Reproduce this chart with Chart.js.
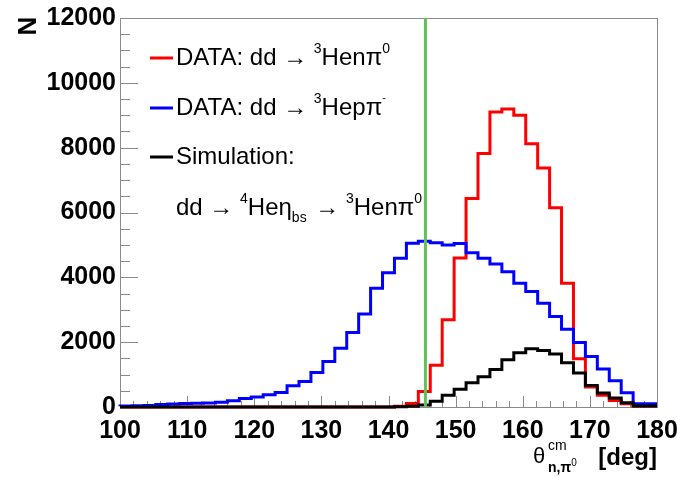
<!DOCTYPE html>
<html>
<head>
<meta charset="utf-8">
<script src="https://cdn.jsdelivr.net/npm/chart.js@4.4.1/dist/chart.umd.min.js"></script>
<style>
  html, body { margin: 0; padding: 0; background: #ffffff; }
  #wrap { width: 677px; height: 478px; }
</style>
</head>
<body>
<div id="wrap"><canvas id="canvasTheta"></canvas></div>
<script>
// binning del histograma: 45 bins entre 100 y 180 grados
var thetaMin = 100;
var thetaMax = 180;
var nBins = 45;

// corte en theta (linea verde)
var cutAngle = 145.5;

// DATA: dd -> 3He n pi0
var datosNPi0 = [
  0, 0, 0, 0, 0, 0, 0, 0, 0, 0,
  0, 0, 0, 0, 0, 0, 0, 0, 0, 0,
  0, 0, 0, 0, 20, 110, 480, 1290, 2690, 4600,
  6430, 7820, 9100, 9190, 9000, 8120, 7370, 6150, 3820, 1490,
  620, 360, 200, 100, 30
];

// DATA: dd -> 3He p pi-
var datosPPim = [
  25, 30, 40, 50, 80, 95, 105, 115, 125, 145,
  190, 260, 310, 375, 450, 655, 790, 1065, 1405, 1815,
  2300, 2870, 3660, 4140, 4585, 5050, 5115, 5065, 4995, 5045,
  4760, 4585, 4410, 4170, 3815, 3560, 3200, 2790, 2400, 1990,
  1560, 1170, 810, 440, 100
];

// Simulacion: dd -> 4He eta_bs -> 3He n pi0
var simulacion = [
  0, 0, 0, 0, 0, 0, 0, 0, 0, 0,
  0, 0, 0, 0, 0, 0, 0, 0, 0, 0,
  0, 0, 0, 0, 10, 20, 60, 180, 360, 550,
  750, 930, 1160, 1455, 1670, 1800, 1740, 1635, 1365, 1046,
  660, 431, 277, 130, 30
];

var yTicks = [0, 2000, 4000, 6000, 8000, 10000, 12000];
var xTicks = [100, 110, 120, 130, 140, 150, 160, 170, 180];

var FONT = '"Liberation Sans", Arial, Helvetica, sans-serif';

// convierte los contenidos de los bins en puntos de escalera
function histoPoints(values) {
  var w = (thetaMax - thetaMin) / nBins;
  var pts = [];
  for (var i = 0; i < values.length; i++) {
    pts.push({ x: thetaMin + i * w, y: values[i] });
  }
  pts.push({ x: thetaMax, y: values[values.length - 1] });
  return pts;
}

// dibuja un texto formado por trozos (superindices, subindices)
function drawRuns(ctx, x, y, runs) {
  var cx = x;
  runs.forEach(function (r) {
    ctx.font = (r.bold ? "bold " : "") + r.size + "px " + FONT;
    ctx.fillText(r.t, cx, y + (r.dy || 0));
    cx += ctx.measureText(r.t).width + (r.gap || 0);
  });
}

// marco, ticks hacia dentro (estilo ROOT)
var marcoRoot = {
  id: "marcoRoot",
  beforeDatasetsDraw: function (chart) {
    var ctx = chart.ctx;
    var a = chart.chartArea;
    var xs = chart.scales.x;
    var ys = chart.scales.y;
    ctx.save();
    ctx.strokeStyle = "#8a8a8a";
    ctx.lineWidth = 1;
    ctx.strokeRect(Math.round(a.left) + 0.5, Math.round(a.top) + 0.5,
      Math.round(a.right - a.left), Math.round(a.bottom - a.top));
    ctx.beginPath();
    for (var v = 0; v <= 12000; v += 500) {
      var len = v % 2000 === 0 ? 18 : 10;
      var py = Math.round(ys.getPixelForValue(v)) + 0.5;
      ctx.moveTo(a.left, py);
      ctx.lineTo(a.left + len, py);
    }
    for (var t = 100; t <= 180; t += 2) {
      var lx = t % 10 === 0 ? 11 : 6;
      var px = Math.round(xs.getPixelForValue(t)) + 0.5;
      ctx.moveTo(px, a.bottom);
      ctx.lineTo(px, a.bottom - lx);
    }
    ctx.stroke();
    ctx.restore();
  },
  afterDraw: function (chart) {
    var ctx = chart.ctx;
    ctx.save();
    ctx.fillStyle = "#000000";
    ctx.textBaseline = "middle";

    // leyenda
    var filas = [
      { color: "#ff0000", y: 58, runs: [
        { t: "DATA: dd \u2192 ", size: 24 }, { t: "3", size: 14, dy: -9 },
        { t: "Hen\u03c0", size: 24 }, { t: "0", size: 14, dy: -9 }] },
      { color: "#0000ff", y: 108, runs: [
        { t: "DATA: dd \u2192 ", size: 24 }, { t: "3", size: 14, dy: -9 },
        { t: "Hep\u03c0", size: 24 }, { t: "-", size: 11, dy: -10 }] },
      { color: "#000000", y: 157, runs: [{ t: "Simulation:", size: 24 }] },
      { color: null, y: 208, runs: [
        { t: "dd \u2192 ", size: 24 }, { t: "4", size: 14, dy: -9 },
        { t: "He\u03b7", size: 24 }, { t: "bs", size: 14, dy: 10, gap: 2 },
        { t: " \u2192 ", size: 24 }, { t: "3", size: 14, dy: -9 },
        { t: "Hen\u03c0", size: 24 }, { t: "0", size: 14, dy: -9 }] }
    ];
    filas.forEach(function (f) {
      if (f.color) {
        ctx.strokeStyle = f.color;
        ctx.lineWidth = 3;
        ctx.beginPath();
        ctx.moveTo(150, f.y);
        ctx.lineTo(173, f.y);
        ctx.stroke();
      }
      ctx.textAlign = "left";
      drawRuns(ctx, 176, f.y, f.runs);
    });

    // titulo eje Y
    ctx.save();
    ctx.translate(29, 26);
    ctx.rotate(-Math.PI / 2);
    ctx.textAlign = "center";
    ctx.font = "bold 26px " + FONT;
    ctx.fillText("N", 0, 0);
    ctx.restore();

    // titulo eje X
    ctx.textAlign = "left";
    ctx.font = "22px " + FONT;
    ctx.fillText("\u03b8", 533, 457);
    drawRuns(ctx, 548, 446, [{ t: "cm", size: 14 }]);
    drawRuns(ctx, 548, 468, [{ t: "n,\u03c0", size: 14, bold: true }, { t: "0", size: 10, dy: -5 }]);
    ctx.textAlign = "right";
    ctx.font = "bold 24px " + FONT;
    ctx.fillText("[deg]", 657, 458);
    ctx.restore();
  }
};

function histoDataset(values, color) {
  return {
    data: histoPoints(values),
    borderColor: color,
    borderWidth: 3,
    stepped: "after",
    pointRadius: 0,
    fill: false,
    clip: false
  };
}

function sinComas(v) {
  return String(v);
}

var ctx = document.getElementById("canvasTheta").getContext("2d");
var chart = new Chart(ctx, {
  type: "line",
  data: {
    datasets: [
      {
        data: [{ x: cutAngle, y: 0 }, { x: cutAngle, y: yTicks[yTicks.length - 1] }],
        borderColor: "#64be5a",
        borderWidth: 3,
        pointRadius: 0,
        clip: false
      },
      histoDataset(simulacion, "#000000"),
      histoDataset(datosPPim, "#0000ff"),
      histoDataset(datosNPi0, "#ff0000")
    ]
  },
  options: {
    responsive: true,
    maintainAspectRatio: false,
    animation: false,
    layout: { padding: { top: 18, right: 20, left: 0, bottom: 0 } },
    plugins: {
      legend: { display: false },
      tooltip: { enabled: false }
    },
    scales: {
      x: {
        type: "linear",
        min: thetaMin,
        max: thetaMax,
        afterBuildTicks: function (scale) {
          scale.ticks = xTicks.map(function (v) { return { value: v }; });
        },
        grid: { display: false, drawTicks: false },
        border: { display: false },
        ticks: {
          color: "#000000",
          padding: 9,
          maxRotation: 0,
          callback: sinComas,
          font: { family: FONT, size: 25, weight: "bold" }
        },
        afterFit: function (scale) {
          scale.height = 71;
          scale.paddingLeft = 0;
          scale.paddingRight = 0;
        }
      },
      y: {
        min: 0,
        max: 12000,
        afterBuildTicks: function (scale) {
          scale.ticks = yTicks.map(function (v) { return { value: v }; });
        },
        grid: { display: false, drawTicks: false },
        border: { display: false },
        ticks: {
          color: "#000000",
          padding: 4,
          callback: sinComas,
          font: { family: FONT, size: 25, weight: "bold" }
        },
        afterFit: function (scale) {
          scale.width = 120;
          scale.paddingTop = 0;
          scale.paddingBottom = 0;
        }
      }
    }
  },
  plugins: [marcoRoot]
});
</script>
</body>
</html>
